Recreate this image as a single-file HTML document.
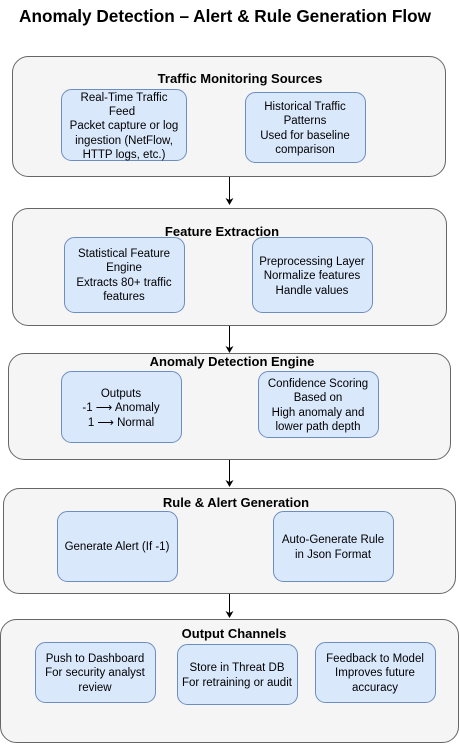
<!DOCTYPE html>
<html><head><meta charset="utf-8"><style>
html,body{margin:0;padding:0;background:#fff;}
svg{display:block;font-family:"Liberation Sans",Arial,sans-serif;}
.c{fill:#f5f5f5;stroke:#666;stroke-width:1;}
.b{fill:#dae8fc;stroke:#6c8ebf;stroke-width:1;}
.t{font-size:13px;font-weight:bold;fill:#000;text-anchor:middle;}
.l{font-size:11.5px;fill:#000;text-anchor:middle;}
.a{stroke:#000;stroke-width:1;}
</style></head><body>
<svg width="460" height="744" viewBox="0 0 460 744">
<text x="225" y="22" style="font-size:17.2px;font-weight:bold;text-anchor:middle">Anomaly Detection – Alert &amp; Rule Generation Flow</text>

<rect class="c" x="12.5" y="56.5" width="433" height="120" rx="16"/>
<text class="t" x="240" y="83">Traffic Monitoring Sources</text>
<rect class="b" x="61.5" y="89.5" width="125" height="71" rx="10"/>
<text class="l" x="124" y="101">Real-Time Traffic</text>
<text class="l" x="122" y="115">Feed</text>
<text class="l" x="124" y="129">Packet capture or log</text>
<text class="l" x="124" y="144">ingestion (NetFlow,</text>
<text class="l" x="124" y="158">HTTP logs, etc.)</text>
<rect class="b" x="245.5" y="92.5" width="120" height="70" rx="10"/>
<text class="l" x="305" y="110">Historical Traffic</text>
<text class="l" x="305" y="124">Patterns</text>
<text class="l" x="305" y="139">Used for baseline</text>
<text class="l" x="305" y="153">comparison</text>

<line class="a" x1="229.5" y1="177" x2="229.5" y2="200"/>
<path d="M225.5 198 L229.5 205 L233.5 198 L229.5 200 Z"/>

<rect class="c" x="12.5" y="208.5" width="434" height="117" rx="16"/>
<text class="t" x="222" y="236">Feature Extraction</text>
<rect class="b" x="64.5" y="237.5" width="120" height="75" rx="10"/>
<text class="l" x="124" y="257">Statistical Feature</text>
<text class="l" x="124" y="271">Engine</text>
<text class="l" x="124" y="286">Extracts 80+ traffic</text>
<text class="l" x="124" y="300">features</text>
<rect class="b" x="252.5" y="237.5" width="120" height="75" rx="10"/>
<text class="l" x="312" y="265">Preprocessing Layer</text>
<text class="l" x="312" y="279">Normalize features</text>
<text class="l" x="312" y="294">Handle values</text>

<line class="a" x1="229.5" y1="326" x2="229.5" y2="348"/>
<path d="M225.5 346 L229.5 353 L233.5 346 L229.5 348 Z"/>

<rect class="c" x="8.5" y="353.5" width="442" height="106" rx="16"/>
<text class="t" x="232" y="366">Anomaly Detection Engine</text>
<rect class="b" x="61.5" y="371.5" width="120" height="71" rx="10"/>
<text class="l" x="121" y="397">Outputs</text>
<text class="l" x="121" y="411">-1 ⟶ Anomaly</text>
<text class="l" x="121" y="426">1 ⟶ Normal</text>
<rect class="b" x="258.5" y="371.5" width="120" height="66" rx="10"/>
<text class="l" x="318" y="387">Confidence Scoring</text>
<text class="l" x="318" y="401">Based on</text>
<text class="l" x="318" y="416">High anomaly and</text>
<text class="l" x="318" y="430">lower path depth</text>

<line class="a" x1="229.5" y1="460" x2="229.5" y2="482"/>
<path d="M225.5 480 L229.5 487 L233.5 480 L229.5 482 Z"/>

<rect class="c" x="3.5" y="488.5" width="452" height="105" rx="16"/>
<text class="t" x="236" y="507">Rule &amp; Alert Generation</text>
<rect class="b" x="57.5" y="511.5" width="120" height="70" rx="10"/>
<text class="l" x="117" y="550">Generate Alert (If -1)</text>
<rect class="b" x="273.5" y="511.5" width="120" height="70" rx="10"/>
<text class="l" x="333" y="543">Auto-Generate Rule</text>
<text class="l" x="333" y="558">in Json Format</text>

<line class="a" x1="229.5" y1="594" x2="229.5" y2="613"/>
<path d="M225.5 611 L229.5 618 L233.5 611 L229.5 613 Z"/>

<rect class="c" x="0.5" y="619.5" width="458" height="123" rx="16"/>
<text class="t" x="234" y="638">Output Channels</text>
<rect class="b" x="35.5" y="642.5" width="120" height="60" rx="10"/>
<text class="l" x="95" y="662">Push to Dashboard</text>
<text class="l" x="95" y="676">For security analyst</text>
<text class="l" x="95" y="691">review</text>
<rect class="b" x="177.5" y="644.5" width="120" height="60" rx="10"/>
<text class="l" x="237" y="671">Store in Threat DB</text>
<text class="l" x="237" y="686">For retraining or audit</text>
<rect class="b" x="315.5" y="642.5" width="120" height="60" rx="10"/>
<text class="l" x="375" y="662">Feedback to Model</text>
<text class="l" x="375" y="676">Improves future</text>
<text class="l" x="375" y="691">accuracy</text>
</svg>
</body></html>
